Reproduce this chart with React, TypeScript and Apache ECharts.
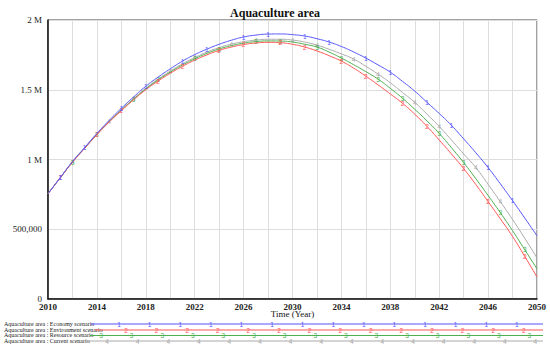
import React, { useEffect, useRef } from "react";
import * as echarts from "echarts";

const years = [2010, 2011, 2012, 2013, 2014, 2015, 2016, 2017, 2018, 2019, 2020, 2021, 2022, 2023, 2024, 2025, 2026, 2027, 2028, 2029, 2030, 2031, 2032, 2033, 2034, 2035, 2036, 2037, 2038, 2039, 2040, 2041, 2042, 2043, 2044, 2045, 2046, 2047, 2048, 2049, 2050];

const economy = [755000, 870000, 985000, 1086000, 1187000, 1280000, 1367000, 1448000, 1525000, 1590000, 1650000, 1705000, 1752000, 1791000, 1826000, 1855000, 1878000, 1892000, 1899000, 1900000, 1895000, 1885000, 1866000, 1842000, 1810000, 1771000, 1727000, 1678000, 1626000, 1560000, 1490000, 1410000, 1330000, 1245000, 1148000, 1048000, 942000, 826000, 705000, 580000, 453000];
const environment = [755000, 868000, 980000, 1080000, 1178000, 1268000, 1350000, 1428000, 1500000, 1562000, 1618000, 1668000, 1712000, 1750000, 1782000, 1806000, 1824000, 1835000, 1840000, 1837000, 1826000, 1806000, 1778000, 1744000, 1705000, 1655000, 1597000, 1535000, 1470000, 1403000, 1325000, 1237000, 1140000, 1040000, 935000, 820000, 698000, 575000, 448000, 305000, 158000];
const resource = [755000, 869000, 982000, 1082000, 1180000, 1271000, 1354000, 1432000, 1506000, 1570000, 1626000, 1677000, 1722000, 1761000, 1792000, 1816000, 1834000, 1845000, 1850000, 1849000, 1842000, 1826000, 1806000, 1770000, 1727000, 1680000, 1630000, 1576000, 1510000, 1439000, 1360000, 1277000, 1187000, 1085000, 978000, 862000, 742000, 619000, 490000, 353000, 216000];
const current = [755000, 869000, 983000, 1083000, 1182000, 1273000, 1357000, 1436000, 1511000, 1576000, 1634000, 1686000, 1731000, 1770000, 1802000, 1827000, 1845000, 1856000, 1862000, 1862000, 1856000, 1842000, 1820000, 1790000, 1757000, 1720000, 1668000, 1612000, 1550000, 1480000, 1410000, 1325000, 1237000, 1140000, 1040000, 942000, 822000, 698000, 570000, 435000, 295000];

const seriesNames = [
  "Aquaculture area : Economy scenario",
  "Aquaculture area : Environment scenario",
  "Aquaculture area : Resource scenario",
  "Aquaculture area : Current scenario",
];
const markerDigits = ["1", "2", "3", "4"];
const yTickLabels: Record<number, string> = { 0: "0", 500000: "500,000", 1000000: "1 M", 1500000: "1.5 M", 2000000: "2 M" };

const colors = ["#5555ff", "#ff5555", "#4caf50", "#aaaaaa"];
const markerShift = [4, 3, 2, 1];
const legendLineStart = [91, 95, 90, 86];
const legendMarkStart = [119, 126, 101, 107];
const legendRowY = [324, 330, 335.5, 341];

export default function App() {
  const ref = useRef<HTMLDivElement>(null);
  useEffect(() => {
    if (!ref.current) return;
    const chart = echarts.init(ref.current, undefined, { renderer: "svg" });
    const all = [economy, environment, resource, current];
    const order = [3, 2, 1, 0];
    const series = order.map((k) => ({
      name: seriesNames[k],
      type: "line",
      smooth: true,
      data: years.map((y, i) => [y, all[k][i]]),
      symbol: "circle",
      symbolSize: 0.1,
      showSymbol: true,
      lineStyle: { color: colors[k], width: 1 },
      itemStyle: { color: colors[k] },
      z: 3 + (3 - k),
      label: {
        show: true,
        position: "inside",
        color: colors[k],
        fontSize: 6.5,
        fontFamily: "Liberation Sans",
        formatter: (p: any) => ((2 * p.dataIndex + markerShift[k]) % 5 < 2 && p.dataIndex > 0 && p.dataIndex < years.length - 1 ? markerDigits[k] : ""),
      },
    }));

    const graphics: any[] = [];
    for (let k = 0; k < 4; k++) {
      graphics.push({
        type: "text",
        left: 4,
        top: legendRowY[k] - 3.5,
        style: { text: seriesNames[k], fontSize: 6, fontFamily: "Liberation Serif", fill: "#222" },
      });
      graphics.push({
        type: "line",
        shape: { x1: legendLineStart[k], y1: legendRowY[k], x2: 543, y2: legendRowY[k] },
        style: { stroke: colors[k], lineWidth: 1.2 },
      });
      for (let x = legendMarkStart[k]; x < 540; x += 30.6) {
        graphics.push({
          type: "text",
          x,
          y: legendRowY[k],
          style: { text: markerDigits[k], fontSize: 6.5, fontFamily: "Liberation Sans", fill: colors[k], align: "center", verticalAlign: "middle" },
        });
      }
    }

    chart.setOption({
      animation: false,
      title: {
        text: "Aquaculture area",
        left: "center",
        top: 2,
        textStyle: { fontFamily: "Liberation Serif", fontSize: 12, fontWeight: "bold", color: "#111" },
      },
      grid: { left: 48, right: 13, top: 20, bottom: 53, show: true, borderColor: "#444", borderWidth: 1 },
      xAxis: {
        type: "value",
        min: 2010,
        max: 2050,
        interval: 2,
        name: "Time (Year)",
        nameLocation: "middle",
        nameGap: 10,
        nameMoveOverlap: false,
        nameTextStyle: { fontFamily: "Liberation Serif", fontSize: 9, color: "#111", verticalAlign: "top" },
        axisLine: { show: true, lineStyle: { color: "#111", width: 1.5 } },
        axisTick: { show: false },
        axisLabel: {
          formatter: (v: number) => (v % 4 === 2 ? String(v) : ""),
          fontFamily: "Liberation Serif",
          fontSize: 9,
          fontWeight: "bold",
          color: "#222",
          margin: 3,
        },
        splitLine: { show: true, lineStyle: { color: "#dddddd", width: 1 } },
      },
      yAxis: {
        type: "value",
        min: 0,
        max: 2000000,
        interval: 500000,
        axisLine: { show: true, lineStyle: { color: "#111", width: 1.5 } },
        axisTick: { show: false },
        axisLabel: {
          formatter: (v: number) => yTickLabels[v] ?? "",
          fontFamily: "Liberation Serif",
          fontSize: 9,
          color: "#222",
          margin: 6,
        },
        splitLine: { show: true, lineStyle: { color: "#dddddd", width: 1 } },
      },
      series,
      graphic: graphics,
    });
    return () => chart.dispose();
  }, []);
  return <div ref={ref} style={{ width: 550, height: 352, position: "absolute", left: 0, top: 0, background: "#fff" }} />;
}
